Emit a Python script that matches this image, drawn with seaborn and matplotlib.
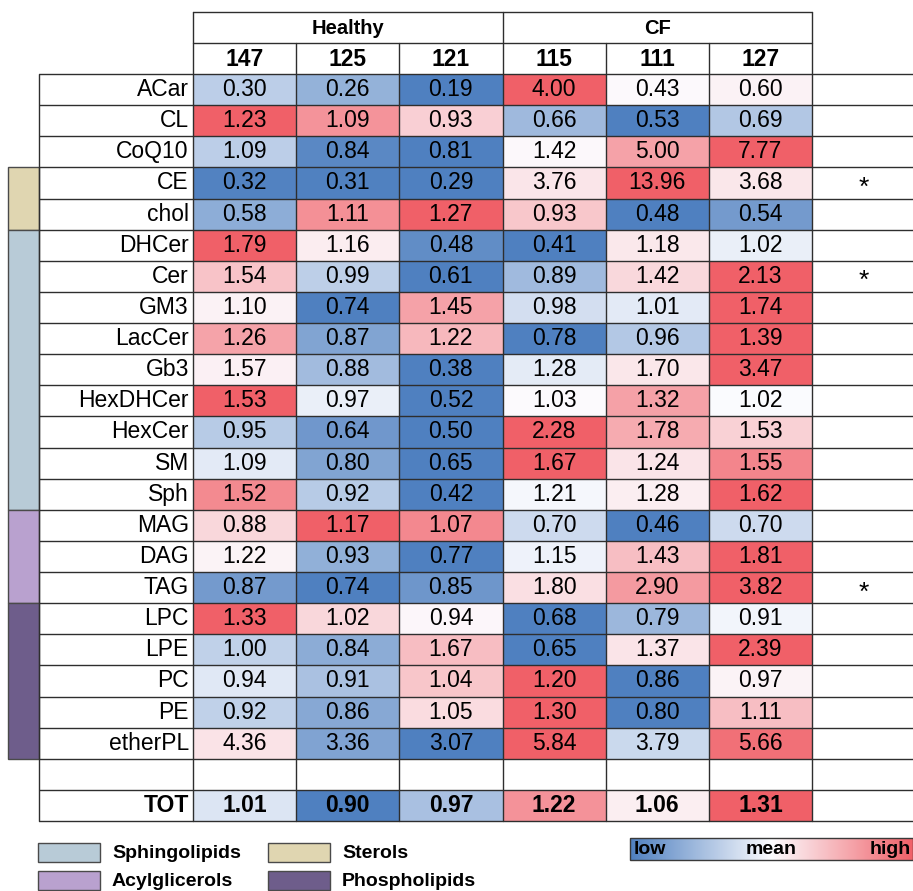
import numpy as np
import pandas as pd
import matplotlib
matplotlib.use("Agg")
import matplotlib.pyplot as plt
from matplotlib.patches import Rectangle
from matplotlib.colors import LinearSegmentedColormap
import seaborn as sns

# ---------------------------------------------------------------- data
lipids = ["ACar", "CL", "CoQ10", "CE", "chol", "DHCer", "Cer", "GM3", "LacCer",
          "Gb3", "HexDHCer", "HexCer", "SM", "Sph", "MAG", "DAG", "TAG",
          "LPC", "LPE", "PC", "PE", "etherPL"]
samples = ["147", "125", "121", "115", "111", "127"]
conditions = ["Healthy", "CF"]

s147 = [0.30, 1.23, 1.09, 0.32, 0.58, 1.79, 1.54, 1.10, 1.26, 1.57, 1.53,
        0.95, 1.09, 1.52, 0.88, 1.22, 0.87, 1.33, 1.00, 0.94, 0.92, 4.36]
s125 = [0.26, 1.09, 0.84, 0.31, 1.11, 1.16, 0.99, 0.74, 0.87, 0.88, 0.97,
        0.64, 0.80, 0.92, 1.17, 0.93, 0.74, 1.02, 0.84, 0.91, 0.86, 3.36]
s121 = [0.19, 0.93, 0.81, 0.29, 1.27, 0.48, 0.61, 1.45, 1.22, 0.38, 0.52,
        0.50, 0.65, 0.42, 1.07, 0.77, 0.85, 0.94, 1.67, 1.04, 1.05, 3.07]
s115 = [4.00, 0.66, 1.42, 3.76, 0.93, 0.41, 0.89, 0.98, 0.78, 1.28, 1.03,
        2.28, 1.67, 1.21, 0.70, 1.15, 1.80, 0.68, 0.65, 1.20, 1.30, 5.84]
s111 = [0.43, 0.53, 5.00, 13.96, 0.48, 1.18, 1.42, 1.01, 0.96, 1.70, 1.32,
        1.78, 1.24, 1.28, 0.46, 1.43, 2.90, 0.79, 1.37, 0.86, 0.80, 3.79]
s127 = [0.60, 0.69, 7.77, 3.68, 0.54, 1.02, 2.13, 1.74, 1.39, 3.47, 1.02,
        1.53, 1.55, 1.62, 0.70, 1.81, 3.82, 0.91, 2.39, 0.97, 1.11, 5.66]

total_label = "TOT"
total = [1.01, 0.90, 0.97, 1.22, 1.06, 1.31]

significant = ["CE", "Cer", "TAG"]

groups = ["Sterols", "Sphingolipids", "Acylglicerols", "Phospholipids"]
group_first = ["CE", "DHCer", "MAG", "LPC"]
group_last = ["chol", "Sph", "TAG", "etherPL"]
group_colors = ["#e0d6b1", "#b8cbd7", "#b9a1cf", "#6e5d8b"]

# ---------------------------------------------------------------- table
values = pd.DataFrame(
    np.column_stack([s147, s125, s121, s115, s111, s127]),
    index=lipids, columns=samples)
values.loc[" "] = np.nan                 # spacer row
values.loc[total_label] = total


def row_scale(row):
    """Three-colour scale per row: min -> -1, median -> 0, max -> +1."""
    if row.isna().all():
        return row
    lo, mid, hi = row.min(), row.median(), row.max()
    out = row.copy()
    up = row >= mid
    out[up] = (row[up] - mid) / (hi - mid) if hi > mid else 0.0
    out[~up] = (row[~up] - mid) / (mid - lo) if mid > lo else 0.0
    return out


scaled = values.apply(row_scale, axis=1)
labels = values.map(lambda v: "" if pd.isna(v) else f"{v:.2f}")

cmap = LinearSegmentedColormap.from_list(
    "low_mean_high", ["#4f80c0", "#fcfcff", "#f06068"])

# ---------------------------------------------------------------- figure
sns.set_theme(style="white")
plt.rcParams["font.family"] = ["Liberation Sans", "DejaVu Sans"]
for key in ("text.color", "axes.labelcolor", "xtick.color", "ytick.color"):
    plt.rcParams[key] = "black"

W, H = 913, 891
fig = plt.figure(figsize=(W / 100, H / 100), dpi=100)

# table geometry (pixels)
x_bar0, x_lab0, x_dat0, x_dat1, x_end = 8, 39, 193, 812, 913
y_top, y_hdr, y_dat0, y_dat1 = 12, 43, 74, 821
n_rows, n_cols = values.shape
col_edges = np.linspace(x_dat0, x_dat1, n_cols + 1)
row_edges = np.linspace(y_dat0, y_dat1, n_rows + 1)
row_h = row_edges[1] - row_edges[0]

ax = fig.add_axes([x_dat0 / W, 1 - y_dat1 / H,
                   (x_dat1 - x_dat0) / W, (y_dat1 - y_dat0) / H])
sns.heatmap(scaled, ax=ax, cmap=cmap, vmin=-1, vmax=1, cbar=False,
            annot=labels.values, fmt="", linewidths=0,
            annot_kws=dict(size=16.5, color="black"),
            xticklabels=samples, yticklabels=list(values.index))

for t in ax.texts:
    x, y = t.get_position()
    if int(y) == n_rows - 1:
        t.set_fontweight("bold")

ax.xaxis.tick_top()
ax.tick_params(axis="x", length=0, pad=2, labelsize=16.5, labelcolor="black")
for t in ax.get_xticklabels():
    t.set_fontweight("bold")
ax.tick_params(axis="y", length=0, pad=3, labelsize=16.5, labelcolor="black")
ax.set_yticklabels(list(values.index), rotation=0)
for t in ax.get_yticklabels():
    if t.get_text() == total_label:
        t.set_fontweight("bold")
ax.set_xlabel("")
ax.set_ylabel("")

# overlay in pixel coordinates for borders, groups and legends
ov = fig.add_axes([0, 0, 1, 1], zorder=5)
ov.set_xlim(0, W)
ov.set_ylim(H, 0)
ov.axis("off")
ov.patch.set_alpha(0)

lc, lw = "#2e2e2e", 1.0

# row lines across label column, data and the note column
for y in row_edges:
    ov.plot([x_lab0, x_end], [y, y], color=lc, lw=lw, solid_capstyle="butt")
ov.plot([x_lab0, x_lab0], [y_dat0, y_dat1], color=lc, lw=lw)
# column lines
for i, x in enumerate(col_edges):
    top = y_top if i in (0, 3, n_cols) else y_hdr
    ov.plot([x, x], [top, y_dat1], color=lc, lw=lw)
ov.plot([x_dat0, x_dat1], [y_top, y_top], color=lc, lw=lw)
ov.plot([x_dat0, x_dat1], [y_hdr, y_hdr], color=lc, lw=lw)

# condition headers
for k, name in enumerate(conditions):
    xc = (col_edges[3 * k] + col_edges[3 * k + 3]) / 2
    ov.text(xc, (y_top + y_hdr) / 2 + 1, name, ha="center", va="center",
            fontsize=14.5, fontweight="bold")

# significance marks
for name in significant:
    r = list(values.index).index(name)
    ov.text((x_dat1 + x_end) / 2 + 1, row_edges[r] + row_h / 2 + 5, "*",
            ha="center", va="center", fontsize=19)

# lipid class bars
idx = list(values.index)
for g, a, b, c in zip(groups, group_first, group_last, group_colors):
    y0 = row_edges[idx.index(a)]
    y1 = row_edges[idx.index(b) + 1]
    ov.add_patch(Rectangle((x_bar0, y0), x_lab0 - x_bar0, y1 - y0,
                           facecolor=c, edgecolor="#4a4a4a", lw=1.0))

# class legend
leg_pos = {"Sphingolipids": (38, 843), "Sterols": (268, 843),
           "Acylglicerols": (38, 871), "Phospholipids": (268, 871)}
for g, c in zip(groups, group_colors):
    x0, y0 = leg_pos[g]
    ov.add_patch(Rectangle((x0, y0), 62, 19, facecolor=c,
                           edgecolor="#4a4a4a", lw=1.0))
    ov.text(x0 + 74, y0 + 10, g, ha="left", va="center",
            fontsize=14, fontweight="bold")

# colour scale bar
grad = np.linspace(-1, 1, 256)[None, :]
ov.imshow(grad, extent=(630, 913, 860, 838), aspect="auto", cmap=cmap,
          vmin=-1, vmax=1, zorder=1)
ov.add_patch(Rectangle((630, 838), 283, 22, facecolor="none",
                       edgecolor="#3a3a3a", lw=1.0, zorder=2))
ov.text(634, 849, "low", ha="left", va="center", fontsize=14,
        fontweight="bold", zorder=3)
ov.text(771, 849, "mean", ha="center", va="center", fontsize=14,
        fontweight="bold", zorder=3)
ov.text(911, 849, "high", ha="right", va="center", fontsize=14,
        fontweight="bold", zorder=3)
ov.set_xlim(0, W)
ov.set_ylim(H, 0)

fig.savefig("out.png", dpi=100)
